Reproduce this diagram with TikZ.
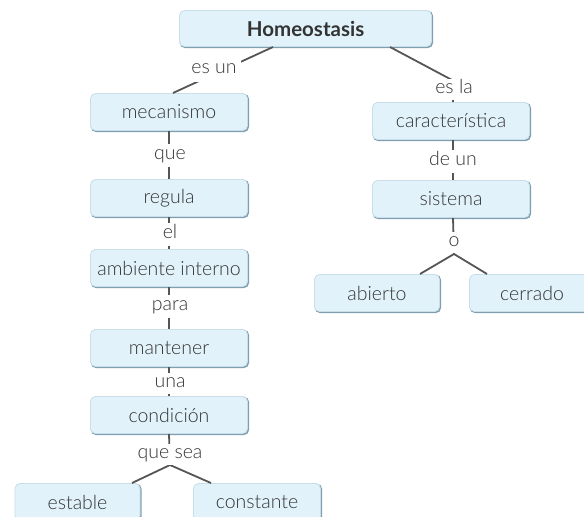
\documentclass[tikz,border=0pt]{standalone}
\usepackage{fontspec}
\setmainfont{Lato Light}
\newfontfamily\headfont{Lato Bold}
\begin{document}
\definecolor{boxfill}{HTML}{E1F2FA}
\definecolor{boxedge}{HTML}{C9DEE8}
\definecolor{boxshade}{HTML}{7E9FAF}
\definecolor{txt}{HTML}{333333}
\definecolor{conn}{HTML}{555555}
\begin{tikzpicture}[x=1pt,y=-1pt,
  concept/.style={rectangle, rounded corners=5pt, fill=boxfill, draw=boxedge, line width=0.8pt,
    text=txt, font=\fontsize{19.5}{22}\selectfont, inner sep=0pt,
    preaction={draw=boxshade, line width=1.6pt, transform canvas={xshift=0.9pt,yshift=-0.9pt}}},
  link/.style={fill=white, text=txt, font=\fontsize{19.5}{22}\selectfont, inner xsep=4pt, inner ysep=2pt,
    text height=13pt, text depth=4pt, yshift=-2pt},
  conline/.style={draw=conn, line width=1.8pt}]
\useasboundingbox (0,0) rectangle (584,517);
\clip (0,0) rectangle (584,517);
% concept nodes
\node[concept, minimum width=252pt, minimum height=36pt, font=\headfont\fontsize{20.5}{22}\selectfont] (homeo) at (305.5,28.5) {Homeostasis};
\node[concept, minimum width=157pt, minimum height=37pt] (mec) at (169,112) {mecanismo};
\node[concept, minimum width=157pt, minimum height=37pt] (reg) at (169,198) {regula};
\node[concept, minimum width=157pt, minimum height=37pt] (amb) at (169,268) {ambiente interno};
\node[concept, minimum width=157pt, minimum height=37pt] (man) at (169,348) {mantener};
\node[concept, minimum width=157pt, minimum height=37pt] (cond) at (169,415) {condición};
\node[concept, minimum width=125pt, minimum height=37pt] (est) at (77.5,502) {estable};
\node[concept, minimum width=127pt, minimum height=37pt] (const) at (257,502) {constante};
\node[concept, minimum width=157pt, minimum height=37pt] (car) at (451,121) {característica};
\node[concept, minimum width=157pt, minimum height=37pt] (sis) at (451,199) {sistema};
\node[concept, minimum width=125pt, minimum height=37pt] (abi) at (377,293) {abierto};
\node[concept, minimum width=125pt, minimum height=37pt] (cer) at (532,293) {cerrado};
% anchor points for connectors
\coordinate (h1) at (273,47);
\coordinate (h2) at (390,47);
\coordinate (m1) at (173,93);
\coordinate (c1) at (453,102);
\coordinate (fork1) at (170,465);
\coordinate (fork2) at (454,254);
\coordinate (e1) at (132,483);
\coordinate (k1) at (211,483);
\coordinate (a1) at (420,274);
\coordinate (r1) at (487,274);
% connectors
\draw[conline] (h1) -- (m1);
\draw[conline] (h2) -- (452,80) -- (c1);
\draw[conline] (mec.south) -- (reg.north);
\draw[conline] (reg.south) -- (amb.north);
\draw[conline] (amb.south) -- (man.north);
\draw[conline] (man.south) -- (cond.north);
\draw[conline] (cond.south) -- (fork1);
\draw[conline] (e1) -- (fork1) -- (k1);
\draw[conline] (car.south -| c1) -- (sis.north -| c1);
\draw[conline] (sis.south -| c1) -- (fork2);
\draw[conline] (a1) -- (fork2) -- (r1);
% linking phrases
\node[link, inner ysep=4pt] (lesun) at (214,67) {es un};
\node[link, inner ysep=2pt, minimum width=60pt] (lesla) at (454,87) {es la};
\node[link, inner ysep=3pt] (lque) at (170,153) {que};
\node[link, inner ysep=3pt] (lel) at (170,232) {el};
\node[link, inner ysep=3pt] (lpara) at (170,304) {para};
\node[link] (luna) at (170,381) {una};
\node[link] (lqs) at (170,452) {que sea};
\node[link, inner ysep=3pt] (ldeun) at (453,159) {de un};
\node[link] (lo) at (454,240) {o};
\end{tikzpicture}
\end{document}
